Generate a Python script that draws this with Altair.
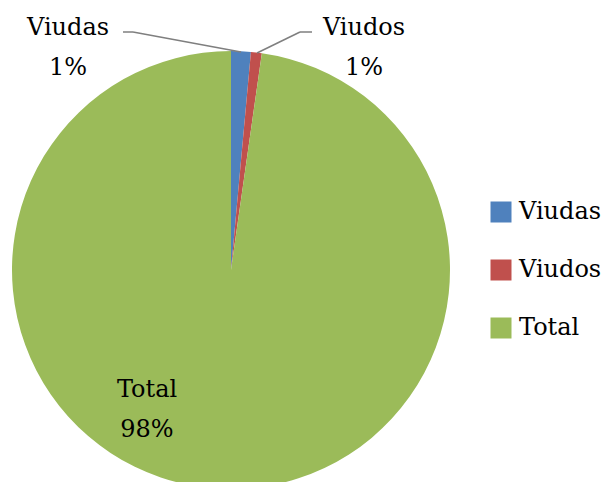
import altair as alt
import pandas as pd

# ---- data ----
categories = ["Viudas", "Viudos", "Total"]
values = [1.45, 0.8, 97.75]          # shares, in percent
colors = ["#4F81BD", "#C0504D", "#9BBB59"]

total = sum(values)
pct_labels = [f"{round(v / total * 100):.0f}%" for v in values]

df = pd.DataFrame({
    "cat": categories,
    "val": values,
    "order": list(range(len(categories))),
    "pct": pct_labels,
})

FONT = "DejaVu Serif"
FS = 24
CX, CY, R = 223, 262, 219

base = alt.Chart(df)

pie = base.mark_arc(outerRadius=R).encode(
    theta=alt.Theta("val:Q", stack=True),
    order=alt.Order("order:Q"),
    color=alt.Color(
        "cat:N",
        scale=alt.Scale(domain=categories, range=colors),
        sort=categories,
        legend=alt.Legend(
            title=None,
            orient="none",
            legendX=481,
            legendY=192,
            symbolType="square",
            symbolSize=441,
            symbolStrokeWidth=0,
            labelFont=FONT,
            labelFontSize=FS,
            labelColor="black",
            labelOffset=6,
            rowPadding=34,
            labelLimit=200,
        ),
    ),
    x=alt.value(CX),
    y=alt.value(CY),
)

# annotation placement (label anchors in pixels)
label_pos = {
    "Viudas": (60, 27),
    "Viudos": (356, 27),
    "Total": (139, 389),
}
layers = [pie]
for i, c in enumerate(categories):
    lx, ly = label_pos[c]
    sub = alt.Chart(df.iloc[[i]])
    layers.append(sub.mark_text(font=FONT, fontSize=FS, color="black", align="center", baseline="alphabetic").encode(
        text="cat:N", x=alt.value(lx), y=alt.value(ly)))
    layers.append(sub.mark_text(font=FONT, fontSize=FS, color="black", align="center", baseline="alphabetic").encode(
        text="pct:N", x=alt.value(lx), y=alt.value(ly + 40)))

# leader lines (two segments each)
segments = [
    ((115, 24), (125, 24)), ((125, 24), (233, 44)),
    ((304, 24), (292, 24)), ((292, 24), (249, 45)),
]
for (x1, y1), (x2, y2) in segments:
    layers.append(alt.Chart(df.iloc[[0]]).mark_rule(color="#7f7f7f", strokeWidth=1.5).encode(
        x=alt.value(x1), y=alt.value(y1), x2=alt.value(x2), y2=alt.value(y2)))

chart = alt.layer(*layers).properties(
    width=596, height=474, padding=0, autosize=alt.AutoSizeParams(type="none"),
    background="white",
).configure_view(strokeWidth=0, stroke=None)

chart.save("out.html", embed_options={"renderer": "svg", "actions": False})
